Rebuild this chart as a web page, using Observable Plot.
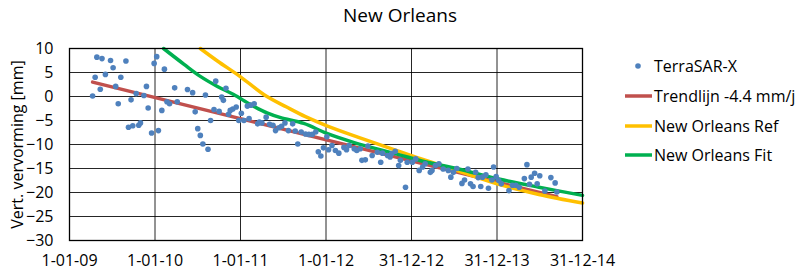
<!DOCTYPE html>
<html>
<head>
<meta charset="utf-8">
<script src="https://cdn.jsdelivr.net/npm/d3@7"></script>
<script src="https://cdn.jsdelivr.net/npm/@observablehq/plot@0.6"></script>
<style>
  html, body { margin: 0; padding: 0; background: #fff; }
  #wrap { position: relative; width: 800px; height: 274px; font-family: "Open Sans", sans-serif; color: #000; }
  #title { position: absolute; left: 0; width: 800px; top: 3px; text-align: center; font-size: 19px; line-height: 24px; }
  #chart { position: absolute; left: 0; top: 0; }
  #legend { position: absolute; left: 0; top: 0; }
</style>
</head>
<body>
<div id="wrap">
  <div id="chart"></div>
  <div id="title">New Orleans</div>
  <svg id="legend" width="800" height="274"></svg>
</div>
<script>
// ---- data (dates as decimal years, 365-day years from 1-01-09) ----
const pointYears = [
  2009.27, 2009.30, 2009.32, 2009.36, 2009.38, 2009.42, 2009.48, 2009.51, 2009.54, 2009.57,
  2009.60, 2009.66, 2009.69, 2009.72, 2009.74, 2009.78, 2009.81, 2009.83, 2009.87, 2009.90,
  2009.92, 2009.96, 2009.99, 2010.02, 2010.04, 2010.08, 2010.11, 2010.14, 2010.17, 2010.23,
  2010.26, 2010.38, 2010.44, 2010.47, 2010.50, 2010.53, 2010.56, 2010.62, 2010.59, 2010.65,
  2010.69, 2010.71, 2010.75, 2010.78, 2010.80, 2010.83, 2010.86, 2010.88, 2010.91, 2010.95,
  2010.98, 2011.01, 2011.04, 2011.08, 2011.10, 2011.12, 2011.16, 2011.20, 2011.22, 2011.25,
  2011.30, 2011.34, 2011.38, 2011.41, 2011.45, 2011.48, 2011.52, 2011.56, 2011.61, 2011.64,
  2011.67, 2011.71, 2011.76, 2011.80, 2011.84, 2011.88, 2011.91, 2011.94, 2011.97, 2012.01,
  2012.03, 2012.07, 2012.11, 2012.15, 2012.21, 2012.24, 2012.27, 2012.33, 2012.36, 2012.40,
  2012.42, 2012.46, 2012.49, 2012.54, 2012.60, 2012.64, 2012.66, 2012.72, 2012.75, 2012.77,
  2012.81, 2012.85, 2012.87, 2012.93, 2012.95, 2013.01, 2013.05, 2013.09, 2013.13, 2013.16,
  2013.22, 2013.24, 2013.28, 2013.32, 2013.37, 2013.43, 2013.46, 2013.49, 2013.53, 2013.59,
  2013.62, 2013.66, 2013.69, 2013.72, 2013.75, 2013.78, 2013.81, 2013.83, 2013.87, 2013.90,
  2013.94, 2013.96, 2013.99, 2014.02, 2014.05, 2014.14, 2014.18, 2014.22, 2014.26, 2014.32,
  2014.35, 2014.38, 2014.40, 2014.44, 2014.47, 2014.50, 2014.56, 2014.63, 2014.68, 2014.70
];
const pointValues = [
  0.1, 4.0, 8.2, 1.5, 7.9, 4.6, 7.5, 6.0, 2.1, -1.5,
  4.0, 7.4, -6.4, -0.7, -6.1, 0.6, -6.0, -5.5, 0.2, 2.1,
  -2.4, -7.6, 6.9, 8.3, -7.1, -2.9, 5.7, -1.1, -1.5, 1.8,
  -1.1, 1.45, 0.8, -3.2, -6.7, -8.1, -9.9, -11.0, 0.3, -5.0,
  -2.7, 3.2, -3.1, -0.1, -0.8, 1.7, -3.7, -2.9, -2.6, -2.2,
  -5.0, -3.5, -5.0, -2.0, -4.6, -1.8, -1.5, -5.7, -5.3, -5.5,
  -4.3, -5.8, -6.0, -7.1, -6.5, -6.2, -5.5, -7.1, -5.7, -7.2,
  -9.9, -7.4, -7.8, -7.9, -7.9, -7.4, -11.5, -12.4, -10.7, -8.4,
  -11.1, -10.2, -11.25, -11.8, -10.6, -11.1, -10.2, -10.9, -11.25, -10.9,
  -13.3, -13.2, -10.3, -12.3, -11.6, -13.7, -11.8, -12.3, -12.6, -11.9,
  -11.4, -14.4, -13.3, -18.9, -13.7, -13.7, -13.0, -15.4, -14.7, -14.0,
  -15.8, -15.4, -14.4, -14.0, -15.1, -15.4, -16.8, -15.8, -15.0, -18.1,
  -17.4, -15.1, -18.2, -18.75, -15.8, -16.9, -18.75, -16.8, -16.3, -19.1,
  -17.4, -14.7, -16.7, -17.5, -18.2, -19.6, -18.5, -18.5, -18.9, -17.1,
  -14.2, -18.3, -16.8, -16.0, -18.2, -16.5, -19.7, -16.9, -18.0, -19.9
];
const trendYears = [2009.27, 2014.70];
const trendValues = [3.0, -20.9];
const refYears = [2010.53, 2010.73, 2011.00, 2011.29, 2011.54, 2011.76, 2012.01, 2012.38, 2012.77, 2013.01, 2013.51, 2014.02, 2014.49, 2015.00];
const refValues = [10, 7.4, 4.1, 0.2, -2.2, -4.2, -6.1, -8.5, -10.9, -12.4, -15.3, -18.3, -20.4, -22.2];
const fitYears = [2010.10, 2010.34, 2010.53, 2010.73, 2010.92, 2011.12, 2011.31, 2011.47, 2011.74, 2012.01, 2012.33, 2012.83, 2013.16, 2013.55, 2014.02, 2014.49, 2015.00];
const fitValues = [10, 6.7, 4.2, 2.1, 0.4, -1.7, -3.4, -4.4, -5.6, -7.7, -9.6, -12.0, -13.6, -15.1, -17.2, -18.9, -20.6];
const tickDates = ["2009-01-01", "2010-01-01", "2011-01-01", "2012-01-01", "2012-12-31", "2013-12-31", "2014-12-31"];
const tickLabels = ["1-01-09", "1-01-10", "1-01-11", "1-01-12", "31-12-12", "31-12-13", "31-12-14"];
const yTicks = [10, 5, 0, -5, -10, -15, -20, -25, -30];
const seriesNames = ["TerraSAR-X", "Trendlijn -4.4 mm/j", "New Orleans Ref", "New Orleans Fit"];
const seriesColors = ["#4F81BD", "#C0504D", "#FFC000", "#00B050"];

// ---- helpers ----
const start = Date.UTC(2009, 0, 1);
const DAY = 86400000;
const toDate = (y) => new Date(start + (y - 2009) * 365 * DAY);
const rows = (ys, vs) => ys.map((y, i) => ({date: toDate(y), value: vs[i]}));
const points = rows(pointYears, pointValues);
const trend = rows(trendYears, trendValues);
const ref = rows(refYears, refValues);
const fit = rows(fitYears, fitValues);
const xTicks = tickDates.map(s => new Date(s + "T00:00:00Z"));
const labelOf = new Map(xTicks.map((d, i) => [+d, tickLabels[i]]));

const chart = Plot.plot({
  width: 800,
  height: 274,
  marginLeft: 69,
  marginRight: 218,
  marginTop: 48,
  marginBottom: 34,
  style: {fontFamily: "Open Sans, sans-serif", fontSize: "16px", color: "#000", background: "transparent"},
  x: {type: "utc", domain: [xTicks[0], xTicks[xTicks.length - 1]]},
  y: {domain: [-30, 10]},
  marks: [
    Plot.gridY(yTicks, {stroke: "#000", strokeOpacity: 0.85, strokeWidth: 1}),
    Plot.gridX(xTicks, {stroke: "#000", strokeOpacity: 0.85, strokeWidth: 1}),
    Plot.axisY(yTicks, {tickSize: 0, tickPadding: 16, fontSize: 16, label: "Vert. vervorming [mm]", labelAnchor: "center", labelOffset: 58, labelArrow: "none"}),
    Plot.axisX(xTicks, {tickSize: 0, tickPadding: 14, fontSize: 16, tickFormat: d => labelOf.get(+d), label: null}),
    Plot.line(trend, {x: "date", y: "value", stroke: seriesColors[1], strokeWidth: 3.5}),
    Plot.line(ref, {x: "date", y: "value", stroke: seriesColors[2], strokeWidth: 3.5, curve: "catmull-rom"}),
    Plot.line(fit, {x: "date", y: "value", stroke: seriesColors[3], strokeWidth: 3.5, curve: "catmull-rom"}),
    Plot.dot(points, {x: "date", y: "value", r: 2.8, fill: seriesColors[0], stroke: "none"}),
    Plot.frame({stroke: "#000", strokeWidth: 1.3})
  ]
});
document.getElementById("chart").appendChild(chart);

// ---- legend ----
const leg = d3.select("#legend");
const legendRows = [66, 96, 126, 155];
seriesNames.forEach((name, i) => {
  const cy = legendRows[i];
  if (i === 0) {
    leg.append("circle").attr("cx", 638).attr("cy", cy).attr("r", 2.8).attr("fill", seriesColors[0]);
  } else {
    leg.append("line").attr("x1", 625).attr("x2", 652).attr("y1", cy).attr("y2", cy)
      .attr("stroke", seriesColors[i]).attr("stroke-width", 3.5);
  }
  leg.append("text").attr("x", 654).attr("y", cy).attr("dy", "0.35em")
    .attr("font-family", "Open Sans, sans-serif").attr("font-size", 16).text(name);
});
</script>
</body>
</html>
